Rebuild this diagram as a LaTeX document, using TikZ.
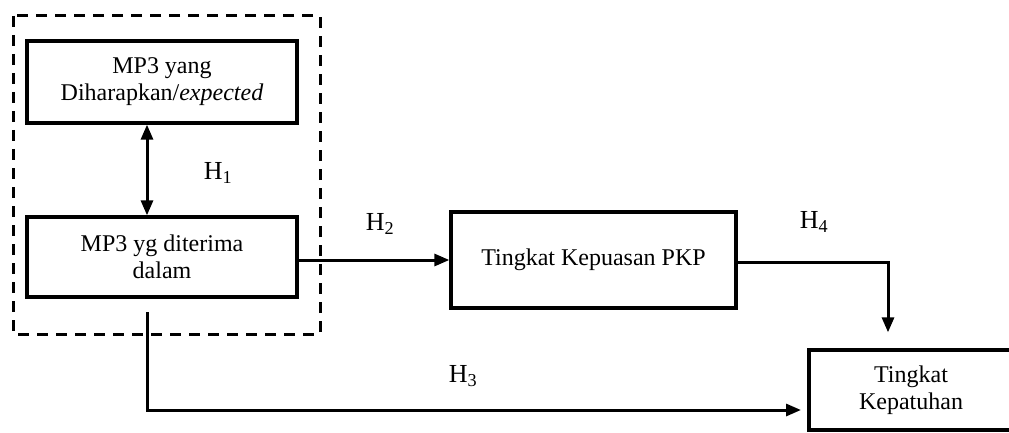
\documentclass[tikz,border=0pt]{standalone}
\usepackage{fontspec}
\setmainfont{Liberation Serif}
\usetikzlibrary{arrows.meta}
\begin{document}
\begin{tikzpicture}[x=1pt,y=-1pt,
  boxnode/.style={draw,line width=3.3pt,align=center,inner sep=0pt,
    font=\fontsize{24}{27}\selectfont},
  conn/.style={line width=3pt,-{Triangle[length=15pt,width=12pt]}},
  hlabel/.style={font=\fontsize{26}{30}\selectfont,inner sep=0pt}]
\useasboundingbox (0,0) rectangle (1009,433);
\clip (0,0) rectangle (1009,433);
\node[boxnode,minimum width=270pt,minimum height=82pt] (b1) at (162,82) {MP3 yang\\Diharapkan/\textit{expected}};
\node[boxnode,minimum width=270pt,minimum height=80pt] (b2) at (162,257) {MP3 yg diterima\\dalam};
\node[boxnode,minimum width=285pt,minimum height=96pt] (b3) at (593.5,260) {Tingkat Kepuasan PKP};
\node[boxnode,minimum width=204pt,minimum height=80pt] (b4) at (911,390) {Tingkat\\Kepatuhan};
\draw[line width=3pt,dash pattern=on 11pt off 8pt] (13,16) rectangle (320,334);
\node[hlabel] (h1) at (218,173) {H\textsubscript{1}};
\node[hlabel] (h2) at (380,224) {H\textsubscript{2}};
\node[hlabel] (h3) at (463,376) {H\textsubscript{3}};
\node[hlabel] (h4) at (814,222) {H\textsubscript{4}};
\draw[line width=3pt,{Triangle[length=15pt,width=12pt]}-{Triangle[length=15pt,width=12pt]}] (b1.south -| 147,0) -- (b2.north -| 147,0);
\draw[conn] (b2.east |- b3.west) -- (b3.west);
\coordinate (c4) at (888,262);
\draw[conn,shorten >=16pt] (b3.east |- c4) -- (c4) -- (c4 |- b4.north);
\coordinate (c3s) at (147,312);
\coordinate (c3c) at (147,410);
\coordinate (c3e) at (801,410);
\draw[conn] (c3s) -- (c3c) -- (c3e);
\end{tikzpicture}
\end{document}
